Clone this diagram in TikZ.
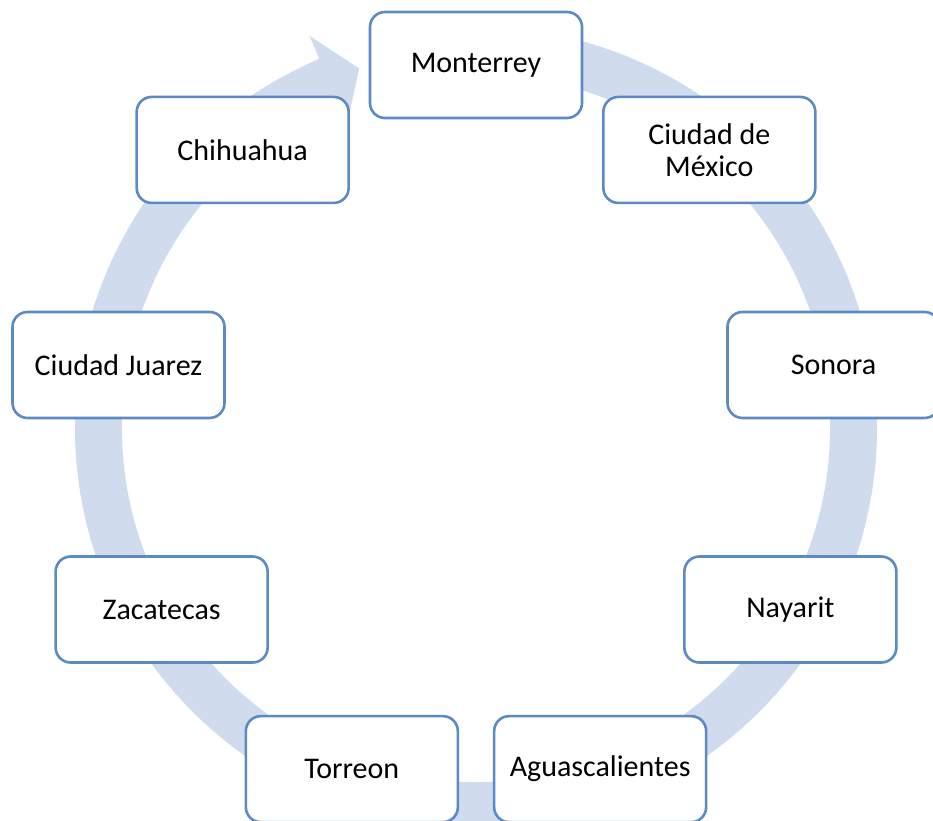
\documentclass[tikz,border=0pt]{standalone}
\usepackage{fontspec}
\setmainfont{Carlito}
\definecolor{ringc}{HTML}{D0DCEE}
\definecolor{boxc}{HTML}{5B8AC5}
\begin{document}
\begin{tikzpicture}[x=1pt,y=1pt,
 city/.style={draw=boxc, line width=2.6pt, fill=white, rounded corners=15pt,
   minimum width=212pt, minimum height=106pt, align=center,
   font=\fontsize{30}{32}\selectfont, inner sep=0pt}]
\useasboundingbox (0,0) rectangle (933,-820);
\begin{scope}[shift={(476,-428)}]
\fill[ringc] (90:401) arc[start angle=90, end angle=-247, radius=401]
  -- (113:426) -- (108:378) -- (113:330) -- (113:354)
  arc[start angle=-247, end angle=90, radius=354] -- cycle;
\node[city] (monterrey) at (90:363) {Monterrey};
\node[city] (cdmx) at (50:363) {Ciudad de\\México};
\node[city] (sonora) at (10:363) {Sonora};
\node[city] (nayarit) at (-30:363) {Nayarit};
\node[city] (ags) at (-70:363) {Aguascalientes};
\node[city] (torreon) at (-110:363) {Torreon};
\node[city] (zacatecas) at (-150:363) {Zacatecas};
\node[city] (juarez) at (170:363) {Ciudad Juarez};
\node[city] (chihuahua) at (130:363) {Chihuahua};
\end{scope}
\end{tikzpicture}
\end{document}
